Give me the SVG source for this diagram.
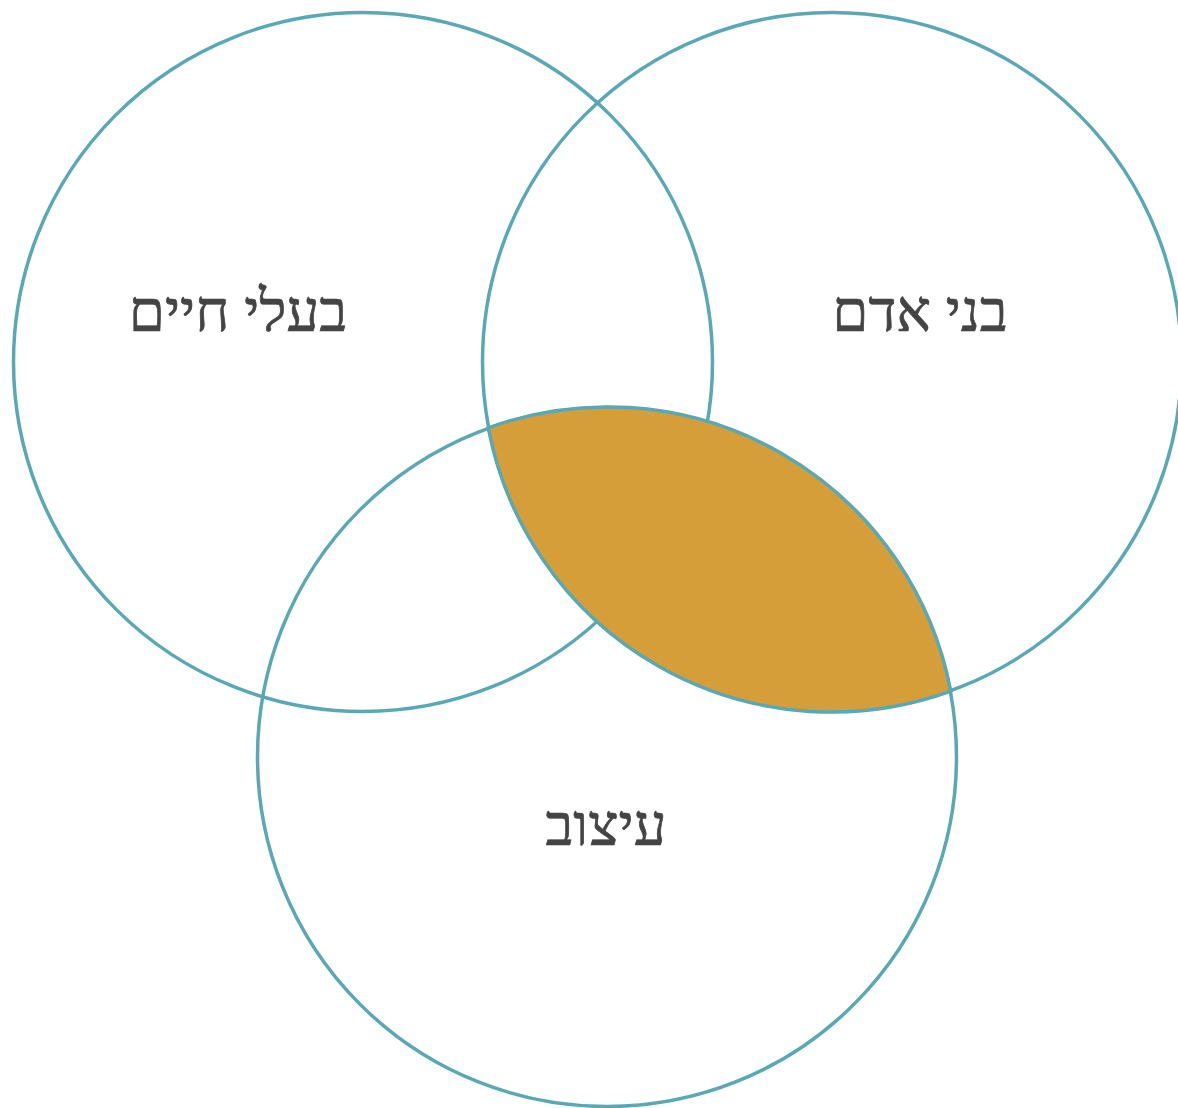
<svg xmlns="http://www.w3.org/2000/svg" width="1178" height="1108" viewBox="0 0 1178 1108">
<style>
.c{fill:none;stroke:#58A9B5;stroke-width:3.5}
.lens{fill:#D69E38;stroke:#58A9B5;stroke-width:3.5}
.t{font-family:"Liberation Serif","DejaVu Serif",serif;font-size:58px;fill:#444444;stroke:#444444;stroke-width:0.7;text-anchor:middle}
</style>
<rect width="1178" height="1108" fill="#ffffff"/>
<g id="connectors"/>
<g id="node-animals"><circle class="c" cx="363" cy="362" r="349.5"/></g>
<g id="node-humans"><circle class="c" cx="832" cy="362" r="349.5"/></g>
<g id="node-design"><circle class="c" cx="607" cy="757" r="349.5"/></g>
<g id="node-intersection"><path class="lens" d="M488.3 427.8 A349.5 349.5 0 0 1 950.7 691.2 A349.5 349.5 0 0 1 488.3 427.8 Z"/></g>
<g id="labels">
<text class="t" x="238" y="331" direction="rtl">בעלי חיים</text>
<text class="t" x="920" y="331" direction="rtl">בני אדם</text>
<text class="t" x="606" y="845" direction="rtl">עיצוב</text>
</g>
</svg>
